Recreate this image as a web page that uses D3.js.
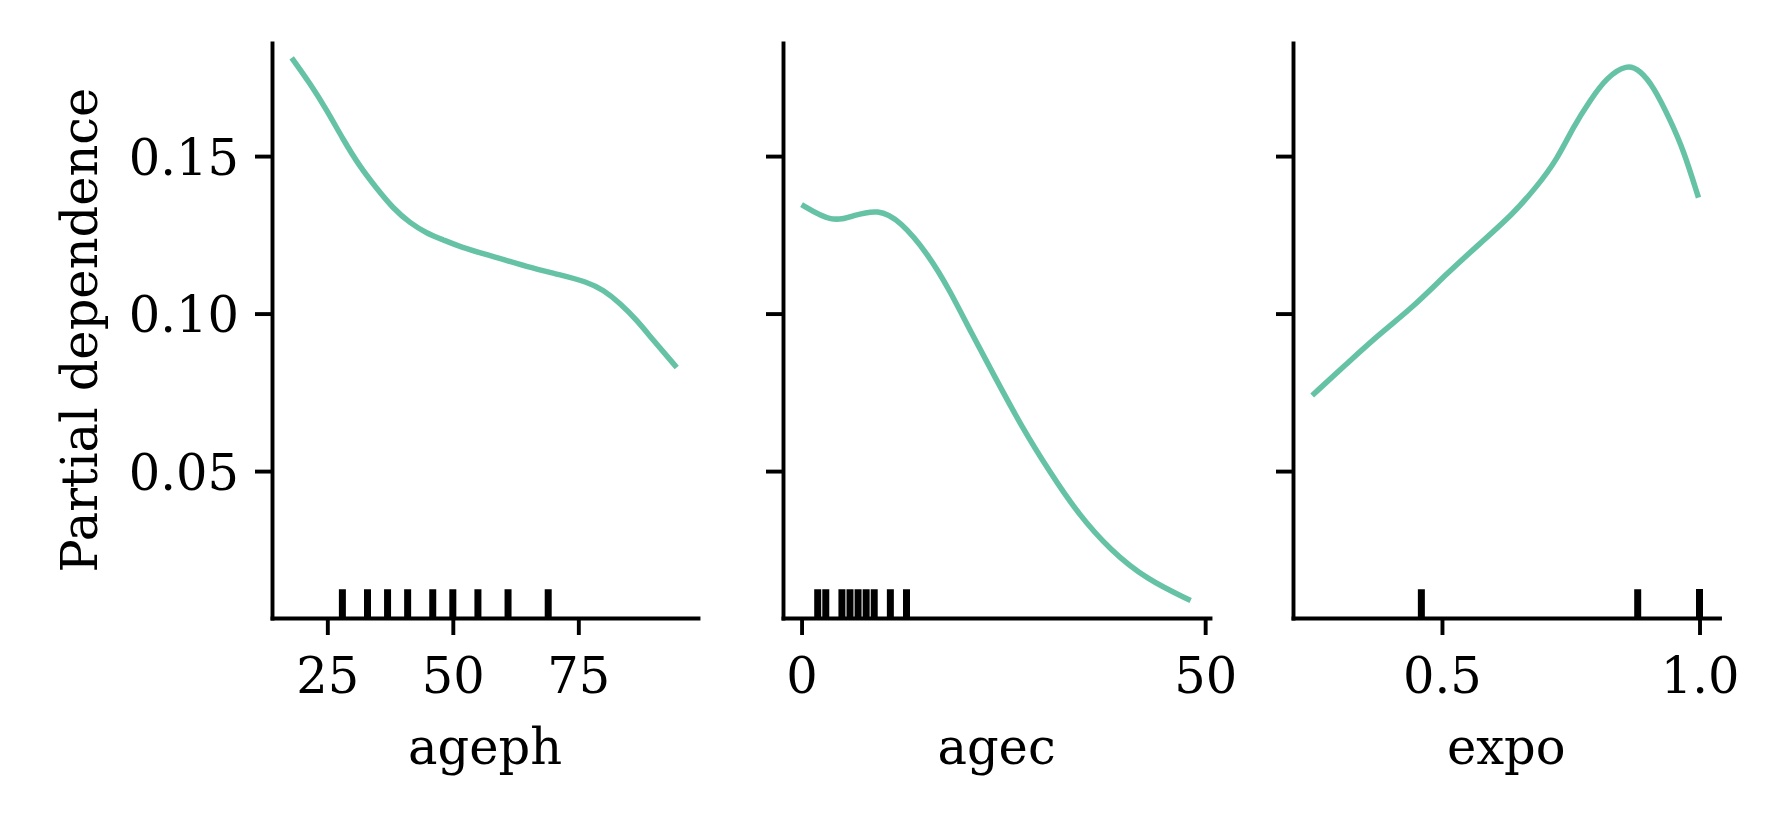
<!DOCTYPE html>
<html>
<head>
<meta charset="utf-8">
<script src="https://cdn.jsdelivr.net/npm/d3@7"></script>
<style>
  html, body { margin: 0; padding: 0; background: #ffffff; }
  svg { display: block; }
</style>
</head>
<body>
<svg id="chart" width="1773" height="814"></svg>
<script>
// ---------------- data ----------------
const features = ["ageph", "agec", "expo"];

const agephX  = [17.9, 21.55, 24.9, 28.2, 31.5, 34.8, 38.1, 41.5, 44.8, 48.1, 51.4, 58.1, 64.7, 71.4, 76.7, 80.0, 83.3, 86.6, 89.9, 94.6];
const agephPD = [0.1812, 0.1731, 0.1646, 0.1551, 0.1466, 0.1398, 0.1334, 0.1287, 0.1255, 0.1234, 0.1212, 0.1181, 0.1149, 0.1123, 0.1101, 0.1075, 0.1033, 0.0980, 0.0916, 0.0829];

const agecX  = [0, 3.8, 6.4, 9.5, 12.2, 15.7, 18.4, 21.0, 24.1, 27.2, 30.8, 34.3, 38.3, 42.7, 48.2];
const agecPD = [0.1346, 0.1288, 0.1311, 0.1332, 0.1295, 0.1188, 0.1072, 0.0940, 0.0792, 0.0644, 0.0495, 0.0363, 0.0248, 0.0157, 0.0089];

const expoX  = [0.248, 0.316, 0.380, 0.445, 0.510, 0.574, 0.639, 0.684, 0.723, 0.755, 0.788, 0.820, 0.859, 0.885, 0.911, 0.943, 0.969, 0.998];
const expoPD = [0.0740, 0.0842, 0.0937, 0.1022, 0.1128, 0.1223, 0.1318, 0.1403, 0.1488, 0.1593, 0.1678, 0.1750, 0.1792, 0.1772, 0.1720, 0.1615, 0.1519, 0.1368];

const agephDeciles = [28, 33, 37, 41, 46, 50, 55, 61, 69];
const agecDeciles  = [2, 3, 5, 6, 7, 8, 9, 11, 13];
const expoDeciles  = [0.46, 0.88, 1, 1, 1, 1, 1, 1, 1];

const yTicks = [0.05, 0.10, 0.15];
const yTickLabels = ["0.05", "0.10", "0.15"];
const agephTicks = [25, 50, 75];
const agephTickLabels = ["25", "50", "75"];
const agecTicks = [0, 50];
const agecTickLabels = ["0", "50"];
const expoTicks = [0.5, 1.0];
const expoTickLabels = ["0.5", "1.0"];

const yLabel = "Partial dependence";

// ---------------- layout ----------------
const svg = d3.select("#chart");
const FONT = "DejaVu Serif";
const FS = 49.5;
const LINE_COLOR = "#66c2a5";
const AX_W = 3.9;
const TICK_LEN = 17;
const plotTop = 43, plotBottom = 618;

const panels = [
  { name: features[0], x0: 272, x1: 698, dom: [13.98, 98.84], xs: agephX, ys: agephPD, dec: agephDeciles, ticks: agephTicks, labels: agephTickLabels },
  { name: features[1], x0: 783, x1: 1210, dom: [-2.3, 50.6], xs: agecX, ys: agecPD, dec: agecDeciles, ticks: agecTicks, labels: agecTickLabels },
  { name: features[2], x0: 1293, x1: 1719.5, dom: [0.2108, 1.0388], xs: expoX, ys: expoPD, dec: expoDeciles, ticks: expoTicks, labels: expoTickLabels }
];

const y = d3.scaleLinear().domain([0.00336, 0.1859]).range([plotBottom, plotTop]);

panels.forEach((p, i) => {
  const x = d3.scaleLinear().domain(p.dom).range([p.x0, p.x1]);
  const g = svg.append("g");

  // rug (deciles)
  const rugH = (plotBottom - plotTop) * 0.05;
  g.append("g").selectAll("line").data(p.dec).join("line")
    .attr("x1", d => x(d)).attr("x2", d => x(d))
    .attr("y1", plotBottom).attr("y2", plotBottom - rugH)
    .attr("stroke", "#000").attr("stroke-width", 7);

  // curve
  const pts = p.xs.map((v, k) => [v, p.ys[k]]);
  g.append("path").datum(pts)
    .attr("fill", "none")
    .attr("stroke", LINE_COLOR)
    .attr("stroke-width", 5.5)
    .attr("stroke-linecap", "butt")
    .attr("stroke-linejoin", "round")
    .attr("d", d3.line().x(d => x(d[0])).y(d => y(d[1])).curve(d3.curveBasis));

  // x axis
  const xAxis = d3.axisBottom(x).tickValues(p.ticks)
    .tickFormat((d, k) => p.labels[k]).tickSize(TICK_LEN).tickSizeOuter(0);
  const gx = g.append("g").attr("transform", `translate(0,${plotBottom})`).call(xAxis);
  gx.select(".domain").attr("stroke-width", AX_W).attr("stroke-linecap", "square");
  gx.selectAll(".tick line").attr("stroke-width", AX_W);
  gx.selectAll(".tick text")
    .attr("font-family", FONT).attr("font-size", FS).attr("fill", "#000")
    .attr("dy", null).attr("y", 75);

  // y axis
  const yAxis = d3.axisLeft(y).tickValues(yTicks)
    .tickFormat((d, k) => i === 0 ? yTickLabels[k] : "")
    .tickSize(TICK_LEN).tickSizeOuter(0);
  const gy = g.append("g").attr("transform", `translate(${p.x0},0)`).call(yAxis);
  gy.select(".domain").attr("stroke-width", AX_W).attr("stroke-linecap", "square");
  gy.selectAll(".tick line").attr("stroke-width", AX_W);
  gy.selectAll(".tick text")
    .attr("font-family", FONT).attr("font-size", FS).attr("fill", "#000")
    .attr("dy", null).attr("y", 18).attr("x", -33);

  // x label
  g.append("text")
    .attr("x", (p.x0 + p.x1) / 2)
    .attr("y", 764)
    .attr("text-anchor", "middle")
    .attr("font-family", FONT).attr("font-size", FS).attr("fill", "#000")
    .text(p.name);
});

// y label
svg.append("text")
  .attr("transform", `translate(97,330) rotate(-90)`)
  .attr("text-anchor", "middle")
  .attr("font-family", FONT).attr("font-size", FS).attr("fill", "#000")
  .text(yLabel);
</script>
</body>
</html>
